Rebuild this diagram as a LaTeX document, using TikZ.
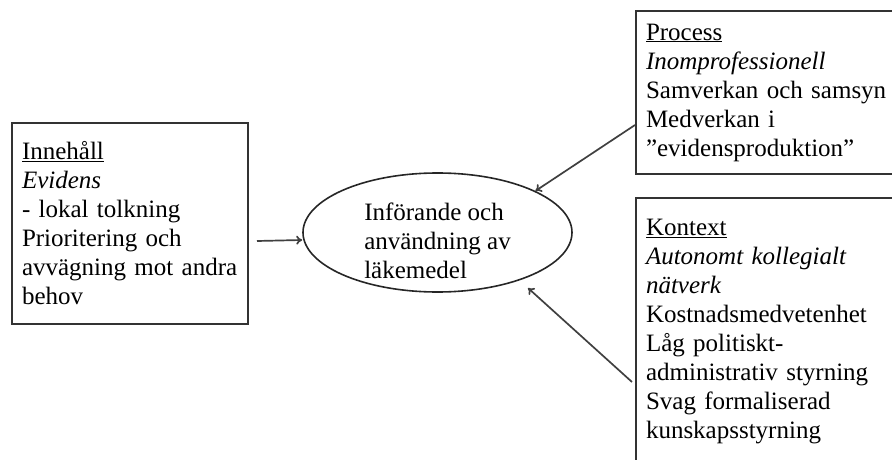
\documentclass[tikz,border=0pt]{standalone}
\usepackage{fontspec}
\setmainfont{Liberation Serif}
\usetikzlibrary{arrows.meta,shapes.geometric}
\tikzset{
  txt/.style={font=\fontsize{25}{29}\selectfont, align=left, inner sep=0pt},
  factorbox/.style={txt, draw=black!80, line width=2pt, anchor=north west,
    inner xsep=10pt, inner ysep=0pt},
  link/.style={-{To[length=6pt,width=9pt]}, line width=1.7pt, black!75}
}

\begin{document}
\begin{tikzpicture}[x=1pt,y=-1pt]
\useasboundingbox (0,0) rectangle (892,460);
\node[factorbox, text width=216pt, minimum width=236pt, minimum height=201pt]
  (content) at (11,122) {\underline{Innehåll}\\ \textit{Evidens}\\ - lokal tolkning\\
  Prioritering och\\ avvägning mot andra\\ behov};
\node[factorbox, text width=250pt, minimum width=270pt, minimum height=163pt]
  (process) at (635,10) {\underline{Process}\\ \textit{Inomprofessionell}\\
  Samverkan och samsyn\\ Medverkan i\\ ”evidensproduktion”};
\node[factorbox, text width=250pt, minimum width=270pt, minimum height=268pt]
  (context) at (635,197) {\underline{Kontext}\\ \textit{Autonomt kollegialt}\\
  \textit{nätverk}\\ Kostnadsmedvetenhet\\ Låg politiskt-\\ administrativ styrning\\
  Svag formaliserad\\ kunskapsstyrning};
\node[draw=black!85, ellipse, line width=1.6pt, minimum width=269pt, minimum height=119pt]
  (use) at (437.5,232.5) {};
\node[txt] (usetxt) at (437.5,241) {Införande och\\ användning av\\ läkemedel};
\coordinate (ctxin) at (528,288);
\draw[link] ([xshift=8pt,yshift=-17.5pt]content.east) -- ([yshift=-7.5pt]use.west);
\draw[link] ([yshift=-115pt]process.north west) -- (use.23);
\draw[link] ([xshift=-3pt,yshift=-185pt]context.north west) -- (ctxin);
\end{tikzpicture}
\end{document}
